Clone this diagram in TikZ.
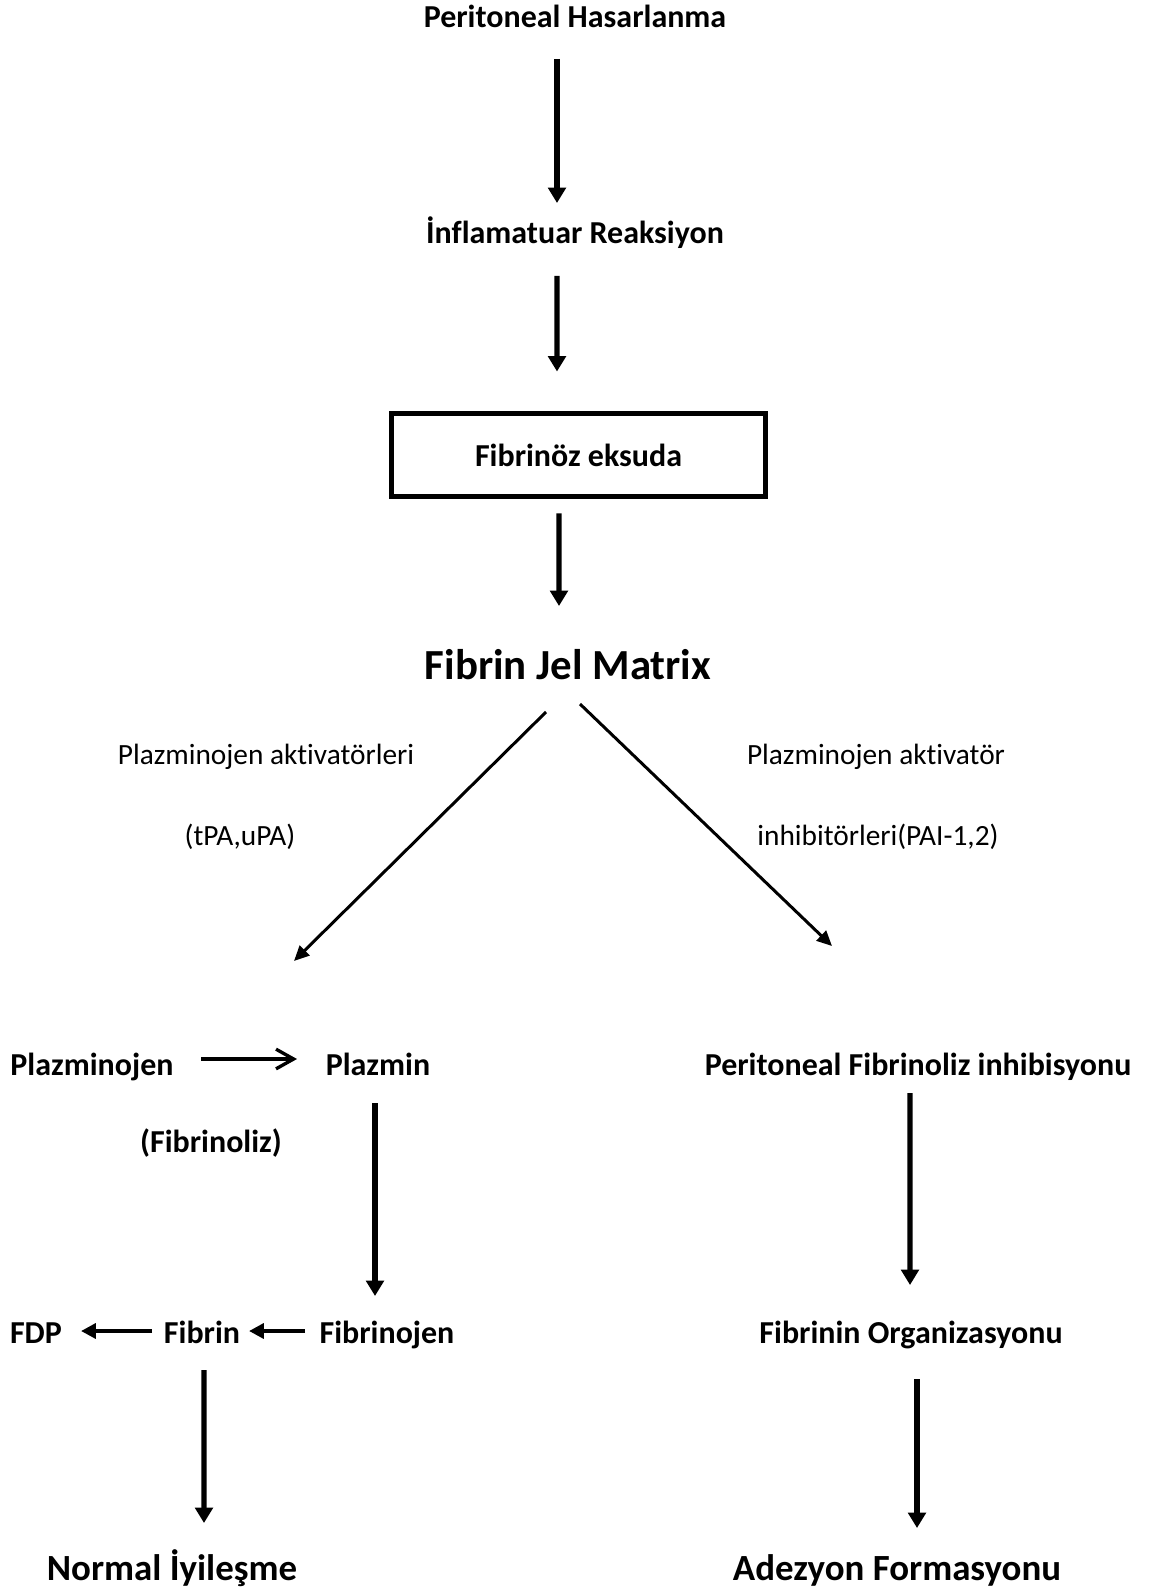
\documentclass[tikz,border=0pt]{standalone}
\usepackage{fontspec}
\setmainfont{Carlito}[Ligatures={TeX,NoCommon}]
\usetikzlibrary{arrows.meta}

\begin{document}
\begin{tikzpicture}[
  txt/.style={inner sep=0pt, anchor=base, font=\bfseries\fontsize{9.1}{11}\selectfont},
  note/.style={inner sep=0pt, anchor=base, font=\fontsize{8.35}{10}\selectfont},
  big/.style={inner sep=0pt, anchor=base, font=\bfseries\fontsize{12.2}{14}\selectfont},
  result/.style={inner sep=0pt, anchor=base, font=\bfseries\fontsize{10.5}{12}\selectfont},
  arr/.style={line width=1.55pt, -{Triangle[length=4.4pt,width=5pt]}},
  diag/.style={line width=0.85pt, -{Triangle[length=4.3pt,width=3.9pt]}},
  side/.style={line width=1.2pt, -{Triangle[length=4.2pt,width=4.2pt]}},
  conv/.style={line width=0.95pt, -{Straight Barb[length=5pt,width=5.6pt]}}
]
  \useasboundingbox (0,0) rectangle (11.48,-15.91);

  % Top chain
  \node[txt] (hasar) at (5.75,-0.28) {Peritoneal Hasarlanma};
  \node[txt] (infl) at (5.75,-2.44) {İnflamatuar Reaksiyon};
  \node[draw, line width=1.42pt, inner sep=0pt, minimum width=3.74cm, minimum height=0.83cm,
        font=\bfseries\fontsize{9.1}{11}\selectfont] (eksuda) at (5.785,-4.55) {Fibrinöz eksuda};
  \node[big] (matrix) at (5.68,-6.79) {Fibrin Jel Matrix};

  \draw[arr] ([xshift=-0.18cm,yshift=-0.31cm]hasar.base) -- ([xshift=-0.18cm,yshift=0.41cm]infl.base);
  \draw[arr] ([xshift=-0.18cm,yshift=-0.32cm]infl.base) -- ([xshift=-0.215cm,yshift=0.395cm]eksuda.north);
  \draw[arr] ([xshift=-0.195cm,yshift=-0.145cm]eksuda.south) -- ([xshift=-0.09cm,yshift=0.73cm]matrix.base);

  % Labels of the two branches
  \node[note] (aktiv) at (2.66,-7.64) {Plazminojen aktivatörleri};
  \node[note] (tpa) at (2.40,-8.45) {(tPA,uPA)};
  \node[note] (aktivinh) at (8.76,-7.64) {Plazminojen aktivatör};
  \node[note] (inhib) at (8.78,-8.45) {inhibitörleri(PAI-1,2)};

  % Left branch
  \node[txt] (plgn) at (0.92,-10.75) {Plazminojen};
  \node[txt] (plzm) at (3.78,-10.75) {Plazmin};
  \node[txt] (fbl) at (2.11,-11.52) {(Fibrinoliz)};
  \node[txt] (fdp) at (0.36,-13.43) {FDP};
  \node[txt] (fibrin) at (2.02,-13.43) {Fibrin};
  \node[txt] (fbgn) at (3.87,-13.43) {Fibrinojen};
  \node[result] (normal) at (1.72,-15.80) {Normal İyileşme};

  \draw[diag] ([xshift=-0.22cm,yshift=-0.33cm]matrix.base) -- ([xshift=2.02cm,yshift=1.14cm]plgn.base);
  \draw[conv] ([xshift=1.09cm,yshift=0.16cm]plgn.base) -- ([xshift=-0.81cm,yshift=0.16cm]plzm.base);
  \draw[arr] ([xshift=-0.03cm,yshift=-0.28cm]plzm.base) -- ([xshift=-0.12cm,yshift=0.47cm]fbgn.base);
  \draw[side] ([xshift=-0.82cm,yshift=0.12cm]fbgn.base) -- ([xshift=0.47cm,yshift=0.12cm]fibrin.base);
  \draw[side] ([xshift=-0.50cm,yshift=0.12cm]fibrin.base) -- ([xshift=0.45cm,yshift=0.12cm]fdp.base);
  \draw[arr] ([xshift=0.02cm,yshift=-0.27cm]fibrin.base) -- ([xshift=0.32cm,yshift=0.57cm]normal.base);

  % Right branch
  \node[txt] (pfi) at (9.18,-10.75) {Peritoneal Fibrinoliz inhibisyonu};
  \node[txt] (organ) at (9.11,-13.43) {Fibrinin Organizasyonu};
  \node[result] (adez) at (8.97,-15.80) {Adezyon Formasyonu};

  \draw[diag] ([xshift=0.12cm,yshift=-0.25cm]matrix.base) -- ([xshift=-0.86cm,yshift=1.29cm]pfi.base);
  \draw[arr] ([xshift=-0.08cm,yshift=-0.18cm]pfi.base) -- ([xshift=-0.01cm,yshift=0.58cm]organ.base);
  \draw[arr] ([xshift=0.06cm,yshift=-0.36cm]organ.base) -- ([xshift=0.20cm,yshift=0.52cm]adez.base);
\end{tikzpicture}
\end{document}
